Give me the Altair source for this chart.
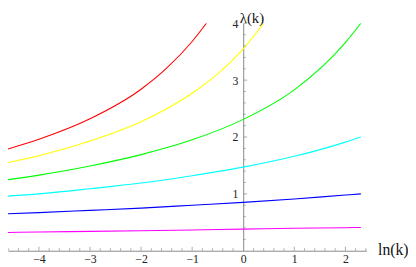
import altair as alt
import pandas as pd

# ---- data ----
ln_k = [-4.605, -4, -3, -2, -1, 0, 1, 2, 2.303]

red_x = [-4.605, -4, -3, -2, -1.5, -1, -0.72]
red_y = [1.79, 1.96, 2.32, 2.84, 3.21, 3.68, 4.0]

yellow_x = [-4.605, -4, -3, -2, -1, -0.5, 0, 0.4]
yellow_y = [1.55, 1.67, 1.93, 2.27, 2.77, 3.11, 3.55, 4.0]

green_y = [1.25, 1.33, 1.49, 1.69, 1.95, 2.31, 2.83, 3.66, 4.0]
cyan_y = [0.96, 1.00, 1.09, 1.19, 1.32, 1.47, 1.66, 1.91, 2.0]
blue_y = [0.65, 0.67, 0.71, 0.75, 0.80, 0.85, 0.91, 0.98, 1.0]
magenta_y = [0.32, 0.33, 0.34, 0.35, 0.365, 0.38, 0.395, 0.405, 0.41]

series_names = ["red", "yellow", "green", "cyan", "blue", "magenta"]
series_colors = ["#ff0000", "#ffff00", "#00ff00", "#00ffff", "#0000ff", "#ff00ff"]

x_labels = [-4, -3, -2, -1, 0, 1, 2]
y_labels = [1, 2, 3, 4]
x_major = [-4, -3, -2, -1, 1, 2]
x_minor = [-4.6, -4.4, -4.2, -3.8, -3.6, -3.4, -3.2, -2.8, -2.6, -2.4, -2.2,
           -1.8, -1.6, -1.4, -1.2, -0.8, -0.6, -0.4, -0.2, 0.2, 0.4, 0.6, 0.8,
           1.2, 1.4, 1.6, 1.8, 2.2, 2.4]
y_major = [1, 2, 3, 4]
y_minor = [0.2, 0.4, 0.6, 0.8, 1.2, 1.4, 1.6, 1.8, 2.2, 2.4, 2.6, 2.8,
           3.2, 3.4, 3.6, 3.8]

# ---- build tables ----
rows = []
for xs, ys, name in [
    (red_x, red_y, "red"),
    (yellow_x, yellow_y, "yellow"),
    (ln_k, green_y, "green"),
    (ln_k, cyan_y, "cyan"),
    (ln_k, blue_y, "blue"),
    (ln_k, magenta_y, "magenta"),
]:
    for a, b in zip(xs, ys):
        rows.append({"x": a, "y": b, "series": name})
df = pd.DataFrame(rows)

xmaj = pd.DataFrame({"x": x_major, "y": [0] * len(x_major)})
xmin = pd.DataFrame({"x": x_minor, "y": [0] * len(x_minor)})
ymaj = pd.DataFrame({"x": [0] * len(y_major), "y": y_major})
ymin = pd.DataFrame({"x": [0] * len(y_minor), "y": y_minor})

X_DOMAIN = [-4.605, 2.41]
Y_DOMAIN = [0, 4]
W = 365.5
H = 232
px0 = W * (0 - X_DOMAIN[0]) / (X_DOMAIN[1] - X_DOMAIN[0])

FONT = "'Liberation Serif', 'Times New Roman', serif"
AXIS_COLOR = "#888888"

xscale = alt.Scale(domain=X_DOMAIN, nice=False, zero=False)
yscale = alt.Scale(domain=Y_DOMAIN, nice=False, zero=False)

x_axis = alt.Axis(
    values=x_labels, format="d", ticks=False, tickSize=0, grid=False,
    domainColor=AXIS_COLOR, labelPadding=3.5, labelFont=FONT, labelFontSize=12,
    labelColor="#222222", labelFlush=False, labelOverlap=False,
    title="ln(k)", titleX=W + 11.5, titleY=-1, titleAlign="left",
    titleBaseline="middle", titleAngle=0, titleFont=FONT, titleFontSize=16,
    titleFontWeight="normal", titleColor="#111111")
y_axis = alt.Axis(
    values=y_labels, format="d", ticks=False, tickSize=0, grid=False,
    domainColor=AXIS_COLOR, offset=-px0, labelPadding=5.5, labelFont=FONT,
    labelFontSize=12, labelColor="#222222", labelFlush=False, labelOverlap=False,
    title="λ(k)", titleX=-4, titleY=-1, titleAngle=0, titleAlign="left",
    titleBaseline="alphabetic", titleFont=FONT, titleFontSize=15,
    titleFontWeight="normal", titleColor="#111111")

lines = alt.Chart(df).mark_line(strokeWidth=1.1, interpolate="monotone", clip=True).encode(
    x=alt.X("x:Q", scale=xscale, axis=x_axis),
    y=alt.Y("y:Q", scale=yscale, axis=y_axis),
    color=alt.Color("series:N", scale=alt.Scale(domain=series_names, range=series_colors), legend=None),
)

def tick_layer(data, orient, size, **off):
    return alt.Chart(data).mark_tick(orient=orient, size=size, thickness=1, color=AXIS_COLOR, **off).encode(
        x=alt.X("x:Q", scale=xscale, axis=x_axis),
        y=alt.Y("y:Q", scale=yscale, axis=y_axis),
    )

chart = alt.layer(
    lines,
    tick_layer(xmaj, "vertical", 4, yOffset=-2),
    tick_layer(xmin, "vertical", 2.5, yOffset=-1.25),
    tick_layer(ymaj, "horizontal", 4, xOffset=2),
    tick_layer(ymin, "horizontal", 2.5, xOffset=1.25),
).properties(
    width=W, height=H,
    padding={"left": 0, "top": 13, "right": 408 - W, "bottom": 259 - 13 - H},
    autosize=alt.AutoSizeParams(type="none"),
).configure_view(stroke=None)

chart.save("out.html", embed_options={"renderer": "svg", "actions": False})
